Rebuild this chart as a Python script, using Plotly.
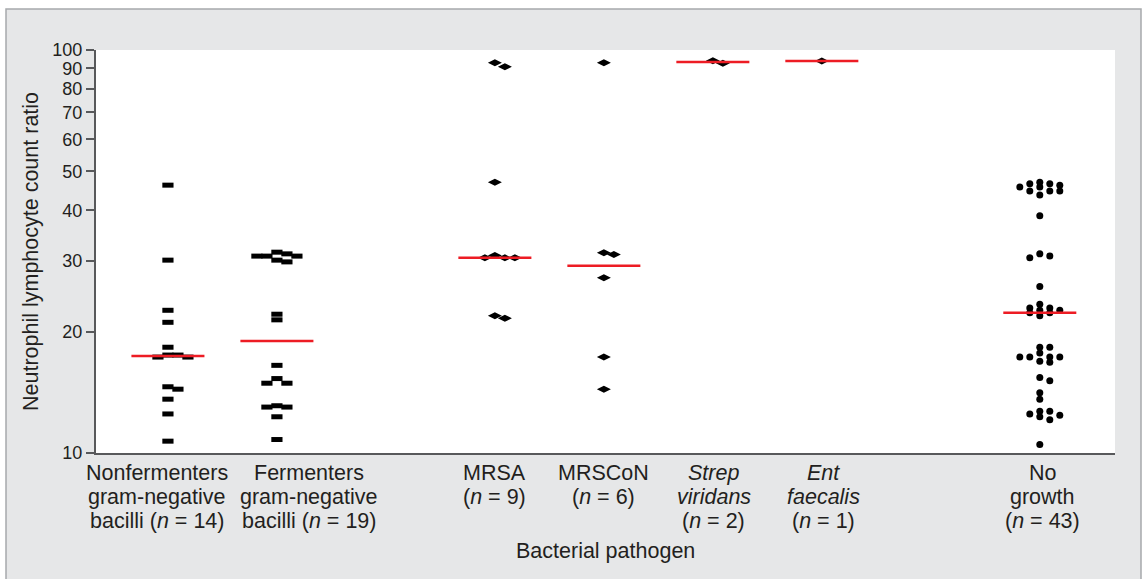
import numpy as np
import plotly.graph_objects as go

# ---------------- data ----------------
categories = [
    "Nonfermenters<br>gram-negative<br>bacilli (<i>n</i> = 14)",
    "Fermenters<br>gram-negative<br>bacilli (<i>n</i> = 19)",
    "MRSA<br>(<i>n</i> = 9)",
    "MRSCoN<br>(<i>n</i> = 6)",
    "<i>Strep</i><br><i>viridans</i><br>(<i>n</i> = 2)",
    "<i>Ent</i><br><i>faecalis</i><br>(<i>n</i> = 1)",
    "No<br>growth<br>(<i>n</i> = 43)",
]
slots = [0, 1, 3, 4, 5, 6, 8]

nonfermenters = [46.2, 30.1, 22.6, 21.1, 18.3, 17.5, 17.3, 17.3, 17.5,
                 14.6, 14.4, 13.6, 12.5, 10.7]
fermenters = [30.8, 30.8, 31.5, 29.8, 31.2, 30.1, 30.8, 22.1, 21.4, 16.5,
              14.9, 14.9, 15.3, 13.1, 13.0, 13.0, 12.3, 10.8]
mrsa = [93.0, 90.9, 47.0, 30.9, 30.5, 30.5, 30.5, 21.6, 21.9]
mrscon = [93.0, 31.4, 31.1, 27.2, 17.3, 14.4]
strep_viridans = [92.7, 94.1]
ent_faecalis = [93.9]
no_growth = [47.0, 46.6, 45.7, 44.7, 43.7, 44.7, 45.7, 44.7, 46.2, 46.6,
             38.8, 31.2, 30.5, 30.8, 25.9,
             23.4, 22.6, 22.3, 22.9, 21.9, 22.3, 22.9, 22.6,
             18.3, 18.3, 17.7, 17.3, 17.3, 17.3, 17.3, 16.9, 16.8,
             15.1, 15.4, 14.1, 13.6,
             12.5, 12.7, 12.7, 12.3, 12.1, 12.4, 10.5]

groups = [nonfermenters, fermenters, mrsa, mrscon, strep_viridans,
          ent_faecalis, no_growth]
y_ticks = [10, 20, 30, 40, 50, 60, 70, 80, 90, 100]
x_title = "Bacterial pathogen"
y_title = "Neutrophil lymphocyte count ratio"

# ---------------- layout / style constants ----------------
W, H = 1146, 579
ML, MR, MT, MB = 96, 31, 50, 126
PW, PH = W - ML - MR, H - MT - MB
XR = [-0.66, 8.69]
PX_PER_UNIT = PW / (XR[1] - XR[0])
PX_PER_DECADE = PH  # y range spans one decade

INK = "#231f20"
AXIS = "#58595b"
RED = "#ed1c24"
FONT = "Liberation Sans, Arial, sans-serif"
LABEL_SIZE = 21.5
TICK_SIZE = 18
LABEL_XSHIFT = [-11, 32, 0, 0, 1, 2, 3]   # label centring offsets (px)
LINE_GAP = 24                             # px between label lines
FIRST_LINE = 20                           # px below axis of first line


def swarm(values, w=9.5, h=5.0):
    """Simple beeswarm: horizontal offsets (category units) avoiding overlap."""
    ys = PX_PER_DECADE * np.log10(np.asarray(values, dtype=float))
    placed = []
    offs = np.zeros(len(ys))
    for i in np.argsort(-ys, kind="stable"):
        y = ys[i]
        hit = 0
        for step in range(0, 120):
            cands = [0] if step == 0 else [step, -step]
            found = False
            for c in cands:
                if all(abs(c - px) >= w or abs(y - py) >= h
                       for px, py in placed):
                    hit = c
                    found = True
                    break
            if found:
                break
        placed.append((hit, y))
        offs[i] = hit / PX_PER_UNIT
    return offs


fig = go.Figure()

marker_styles = [
    dict(symbol="line-ew", size=8, line=dict(width=5, color="black")),
    dict(symbol="line-ew", size=8, line=dict(width=5, color="black")),
    dict(symbol="diamond-wide", size=10, color="black", line=dict(width=0)),
    dict(symbol="diamond-wide", size=10, color="black", line=dict(width=0)),
    dict(symbol="diamond-wide", size=10, color="black", line=dict(width=0)),
    dict(symbol="diamond-wide", size=10, color="black", line=dict(width=0)),
    dict(symbol="circle", size=7, color="black", line=dict(width=0)),
]
swarm_h = [5.0, 5.0, 5.0, 5.0, 5.0, 5.0, 4.5]

for slot, vals, ms, hh in zip(slots, groups, marker_styles, swarm_h):
    offs = swarm(vals, h=hh)
    fig.add_trace(go.Scatter(
        x=slot + offs, y=vals, mode="markers", marker=ms,
        showlegend=False, hoverinfo="y"))

half = 0.335
for slot, vals in zip(slots, groups):
    med = float(np.median(vals))
    fig.add_trace(go.Scatter(
        x=[slot - half, slot + half], y=[med, med], mode="lines",
        line=dict(color=RED, width=2.5), showlegend=False, hoverinfo="skip"))


def px_to_paper_x(px):
    return (px - ML) / PW


def px_to_paper_y(py):
    return (H - MB - py) / PH


# background panel with border, and white plot area
fig.add_shape(type="rect", xref="paper", yref="paper", layer="below",
              x0=px_to_paper_x(6), x1=px_to_paper_x(1141),
              y0=px_to_paper_y(640), y1=px_to_paper_y(9),
              fillcolor="#e6e7e8", line=dict(color="#a7a9ac", width=1.5))
fig.add_shape(type="rect", xref="paper", yref="paper", layer="below",
              x0=0, x1=1, y0=0, y1=1, fillcolor="white", line=dict(width=0))

# category labels (one annotation per line)
for slot, label, xs in zip(slots, categories, LABEL_XSHIFT):
    for j, line in enumerate(label.split("<br>")):
        fig.add_annotation(
            x=slot, xref="x", y=0, yref="paper", text=line,
            showarrow=False, xanchor="center", yanchor="middle",
            xshift=xs, yshift=-(FIRST_LINE + LINE_GAP * j),
            font=dict(size=LABEL_SIZE, color=INK, family=FONT))

fig.add_annotation(
    x=0.5, xref="paper", y=0, yref="paper", text=x_title, showarrow=False,
    xanchor="center", yanchor="middle", yshift=-(FIRST_LINE + LINE_GAP * 3 + 6),
    font=dict(size=LABEL_SIZE, color=INK, family=FONT))

fig.update_layout(
    width=W, height=H,
    margin=dict(l=ML, r=MR, t=MT, b=MB),
    paper_bgcolor="white",
    plot_bgcolor="rgba(0,0,0,0)",
    font=dict(family=FONT, color=INK, size=20),
    xaxis=dict(
        range=XR, tickmode="array", tickvals=slots, showticklabels=False,
        showgrid=False, zeroline=False, showline=True, linecolor=AXIS,
        linewidth=2, ticks="", automargin=False,
    ),
    yaxis=dict(
        type="log", range=[1, 2], tickmode="array", tickvals=y_ticks,
        ticktext=[str(v) for v in y_ticks],
        showgrid=False, zeroline=False, showline=True, linecolor=AXIS,
        linewidth=2, ticks="outside", ticklen=8, tickwidth=1.5,
        tickcolor=AXIS, tickfont=dict(size=TICK_SIZE, color=INK),
        automargin=False,
        title=dict(text=y_title, font=dict(size=LABEL_SIZE, color=INK),
                   standoff=8),
    ),
)

fig.write_html("out.html",
               config={"displayModeBar": False},
               post_script="document.body.style.margin='0px';")
